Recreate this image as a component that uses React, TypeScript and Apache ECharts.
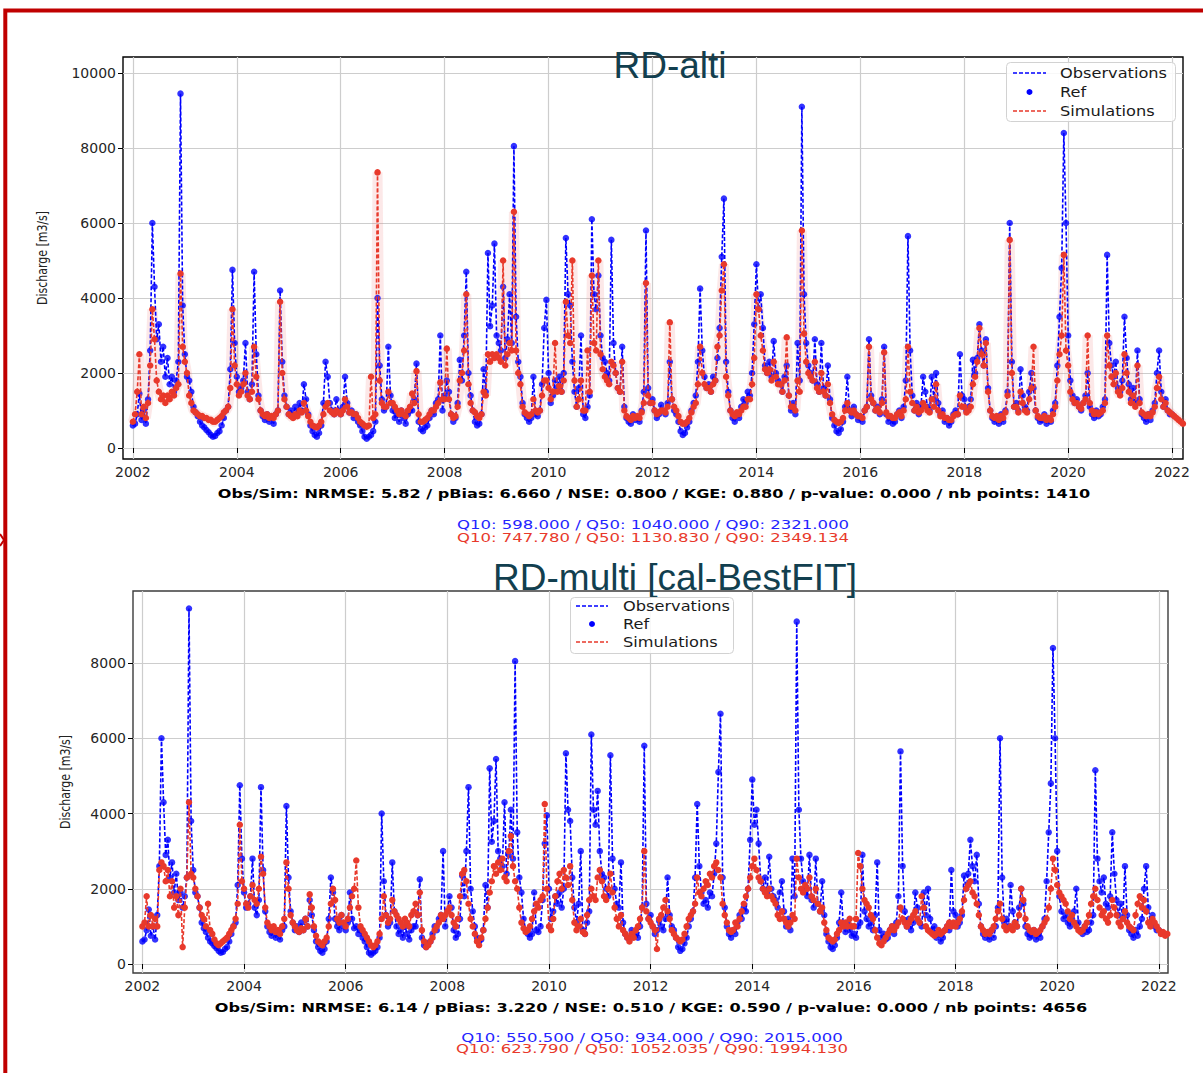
import React, { useEffect, useRef } from "react";
import * as echarts from "echarts";

// Half-monthly discharge samples (m3/s): one row per year, 24 values starting 1 Jan.
const firstYear = 2002;
const stepsPerYear = 24;

const observedRows: number[][] = [
  [600, 650, 900, 1450, 750, 1000, 650, 1300, 2600, 6000, 4300, 2900, 3300, 2300, 2700, 1900, 2400, 1700, 1900, 1500, 1800, 2300, 9450, 3800],
  [2500, 1900, 1800, 1500, 1100, 950, 850, 700, 600, 550, 480, 420, 350, 300, 320, 400, 450, 600, 800, 1000, 1100, 2100, 4750, 2800],
  [1900, 1500, 1600, 1800, 2800, 1500, 1300, 1700, 4700, 2500, 1400, 1000, 850, 750, 900, 700, 800, 650, 900, 1000, 4200, 2300, 1400, 1100],
  [900, 1000, 850, 1100, 900, 1200, 1000, 1700, 1300, 900, 600, 450, 350, 300, 400, 600, 1200, 2300, 1900, 1200, 1000, 900, 1300, 1000],
  [900, 1100, 1900, 1200, 950, 1000, 800, 900, 700, 600, 450, 300, 250, 300, 350, 450, 700, 4000, 2200, 1300, 1000, 1100, 2700, 1400],
  [1000, 800, 900, 700, 1000, 800, 650, 900, 1000, 1000, 1300, 2250, 700, 500, 450, 550, 600, 800, 1000, 900, 1200, 1300, 3000, 1000],
  [1400, 1800, 1500, 900, 700, 800, 1200, 2350, 1800, 3000, 4700, 2000, 1400, 1000, 700, 600, 650, 900, 2100, 1500, 5200, 3250, 3800, 5450],
  [3000, 2800, 2600, 4300, 2400, 2900, 4100, 2800, 8050, 3500, 2300, 1900, 1200, 900, 800, 700, 800, 1900, 900, 850, 1000, 1700, 3200, 3950],
  [2000, 1200, 1400, 1800, 1600, 1900, 1500, 2000, 5600, 4100, 3800, 2300, 1500, 1100, 1600, 3000, 900, 800, 1100, 1400, 6100, 4100, 3700, 4600],
  [3000, 2400, 2300, 2000, 1800, 5550, 2800, 2000, 1600, 1500, 2700, 1100, 800, 700, 650, 900, 750, 800, 700, 1000, 1500, 5800, 1600, 1200],
  [1300, 1000, 800, 900, 1150, 1000, 900, 1200, 2300, 1300, 1000, 900, 700, 450, 350, 400, 550, 700, 1000, 1200, 1400, 2300, 4250, 2600],
  [1900, 1600, 1700, 1500, 1900, 1800, 2400, 3200, 5100, 6650, 2300, 1500, 1000, 800, 700, 900, 800, 1100, 1300, 1200, 1500, 1400, 2000, 3300],
  [4900, 3700, 4100, 3200, 2200, 2000, 2300, 1900, 2850, 2000, 1800, 1700, 1500, 1900, 2200, 1400, 1000, 1200, 900, 2800, 1800, 9100, 4100, 2800],
  [2200, 2000, 1800, 2900, 1700, 1500, 2800, 1600, 1400, 2200, 1300, 800, 600, 450, 400, 500, 700, 1100, 1900, 1000, 850, 1100, 900, 750],
  [800, 700, 1000, 1100, 2900, 1400, 1200, 1000, 1100, 900, 1300, 2700, 900, 700, 800, 650, 700, 900, 1000, 800, 1100, 1800, 5650, 2600],
  [1400, 1000, 1200, 900, 1100, 1900, 1500, 1100, 1000, 1900, 1300, 2000, 1200, 900, 1000, 700, 800, 600, 700, 900, 1000, 900, 2500, 1400],
  [1300, 1000, 1100, 1300, 2350, 2000, 2400, 3300, 2600, 2200, 2900, 1600, 1000, 800, 700, 800, 650, 900, 700, 1000, 1500, 6000, 2300, 1100],
  [1200, 1000, 2100, 1400, 1100, 1000, 1500, 2000, 1600, 1000, 800, 700, 750, 900, 650, 800, 700, 1000, 1200, 2200, 3500, 4800, 8400, 6000],
  [3000, 1800, 1400, 1200, 1300, 1100, 1000, 1200, 1400, 2000, 1100, 900, 800, 1000, 850, 900, 1100, 1300, 5150, 2800, 2200, 1900, 2300, 1600],
  [1500, 1800, 3500, 2400, 1700, 1300, 1600, 1200, 2600, 1300, 900, 800, 700, 900, 750, 1000, 1200, 2000, 2600, 1500, 1100, 1300, 1000, 900],
];
const observedTail: number[] = [900];

// Simulated discharge, altimetry run
const simAltiRows: number[][] = [
  [700, 900, 1500, 2500, 900, 1100, 800, 1200, 2200, 3700, 2900, 1800, 1500, 1300, 1400, 1200, 1400, 1300, 1500, 1400, 1600, 1700, 4650, 2700],
  [2300, 2000, 1400, 1200, 1000, 950, 900, 850, 850, 800, 800, 750, 750, 700, 700, 750, 800, 850, 950, 1000, 1100, 1600, 3700, 2200],
  [1700, 1400, 1500, 1700, 2000, 1400, 1300, 1500, 2700, 1900, 1300, 1000, 900, 850, 900, 800, 850, 800, 900, 1000, 3900, 2000, 1300, 1100],
  [900, 850, 800, 900, 850, 1000, 950, 1200, 1000, 850, 700, 600, 570, 550, 600, 700, 900, 1100, 1200, 1000, 950, 900, 1000, 950],
  [900, 1000, 1300, 1100, 950, 950, 900, 900, 800, 700, 650, 600, 570, 600, 1900, 800, 900, 7350, 1800, 1200, 1100, 1100, 1500, 1200],
  [1200, 1100, 1000, 900, 1000, 900, 850, 1000, 1100, 1450, 1200, 2050, 900, 700, 700, 750, 800, 900, 1000, 1000, 1100, 1200, 1750, 1300],
  [1300, 2650, 1300, 900, 800, 850, 1100, 1800, 2000, 2600, 4100, 1700, 1200, 1000, 950, 850, 800, 900, 1500, 1400, 2500, 2300, 2500, 2400],
  [2500, 2400, 2300, 5000, 2200, 2500, 2800, 2600, 6300, 2600, 2000, 1700, 1100, 950, 900, 850, 900, 1300, 1000, 950, 1000, 1400, 1800, 1800],
  [1600, 1300, 1500, 2800, 1500, 1650, 1500, 1800, 3900, 3000, 2800, 5000, 1800, 1100, 1300, 1800, 1000, 1000, 2600, 1500, 4600, 2800, 2600, 5000],
  [2500, 2100, 1900, 1800, 1700, 2300, 2200, 2000, 1600, 1500, 2300, 1000, 850, 800, 750, 850, 800, 850, 800, 950, 1200, 4400, 1400, 1200],
  [1200, 1000, 900, 950, 1000, 1000, 950, 1100, 3350, 1300, 1100, 1000, 850, 700, 650, 650, 700, 800, 950, 1100, 1200, 1700, 2700, 2000],
  [1700, 1600, 1600, 1500, 1700, 1800, 2700, 3000, 4200, 4900, 1900, 1400, 1000, 900, 850, 950, 900, 1000, 1100, 1100, 1300, 1300, 1700, 2400],
  [4100, 3700, 3000, 2600, 2100, 2000, 2100, 1800, 2300, 1900, 1700, 1700, 1500, 1800, 2950, 1400, 1100, 1100, 1000, 1800, 1500, 5800, 3050, 2300],
  [2000, 1900, 1800, 2300, 1600, 1500, 2000, 1500, 1400, 1700, 1200, 900, 750, 700, 670, 700, 800, 1000, 1200, 1000, 950, 1000, 900, 850],
  [850, 800, 1000, 1100, 2700, 1300, 1200, 1000, 1050, 950, 1200, 2550, 950, 850, 850, 800, 800, 900, 950, 850, 1000, 1300, 2700, 1500],
  [1200, 1000, 1100, 950, 1000, 1200, 1100, 1000, 950, 1300, 1100, 1700, 1000, 850, 900, 800, 800, 750, 750, 850, 900, 900, 1400, 1100],
  [1100, 950, 1000, 1100, 1700, 1900, 2300, 3200, 2500, 2200, 2800, 1500, 1000, 850, 800, 850, 750, 850, 800, 950, 1400, 5550, 2000, 1100],
  [1100, 950, 1500, 1200, 1000, 950, 1300, 1600, 2700, 1000, 850, 800, 800, 850, 750, 800, 750, 900, 1100, 1800, 2500, 3000, 5150, 2600],
  [2200, 1500, 1300, 1200, 1200, 1100, 1050, 1200, 1300, 3000, 1200, 1000, 900, 950, 900, 950, 1000, 1200, 3000, 2200, 1900, 1700, 2000, 1500],
  [1400, 1600, 2500, 2000, 1500, 1200, 1400, 1100, 2200, 1200, 950, 900, 850, 900, 850, 950, 1100, 1600, 1900, 1300, 1100, 1200, 1000, 950],
];
const simAltiTail: number[] = [900, 850, 800, 750, 700, 650];

// Simulated discharge, multi-mission run calibrated on best fit
const simMultiRows: number[][] = [
  [1000, 1100, 1800, 1000, 1300, 1000, 1200, 1000, 2500, 2700, 2600, 2200, 2500, 1800, 2200, 1500, 1800, 1300, 2000, 450, 1500, 2300, 4300, 2400],
  [2300, 2000, 1800, 1500, 1300, 1200, 1000, 1600, 900, 800, 650, 550, 500, 550, 600, 650, 700, 800, 900, 1000, 1200, 1600, 3700, 2200],
  [2000, 1600, 1500, 1800, 2100, 1700, 1600, 2000, 2850, 2400, 1500, 1100, 1000, 900, 1000, 850, 900, 800, 1000, 1200, 2700, 2000, 1300, 1100],
  [1000, 900, 850, 950, 900, 1200, 1000, 1850, 1500, 1000, 750, 600, 550, 500, 600, 700, 1000, 1600, 2000, 1700, 1200, 1100, 1300, 1100],
  [1000, 1200, 1500, 1800, 2000, 2750, 1500, 1000, 900, 800, 700, 600, 500, 450, 500, 600, 800, 1200, 1800, 1300, 1100, 1200, 1700, 1400],
  [1300, 1200, 1100, 1000, 1200, 1100, 1000, 1300, 1400, 1600, 1300, 1900, 900, 600, 450, 500, 600, 700, 900, 1000, 1100, 1300, 1200, 1300],
  [1400, 1500, 1300, 1100, 1000, 1200, 1800, 2400, 2500, 2200, 1600, 1200, 1000, 800, 600, 500, 700, 900, 1200, 1500, 1900, 2200, 2600, 2400],
  [2700, 2500, 2800, 2300, 2200, 3000, 3400, 2600, 2200, 2000, 1500, 1100, 950, 850, 900, 1000, 1200, 1400, 1600, 1500, 1700, 1800, 4250, 2000],
  [1000, 900, 1200, 1800, 2200, 2400, 2000, 2500, 2300, 2100, 2600, 1700, 1100, 900, 1000, 1200, 850, 800, 1300, 1700, 2000, 1800, 1700, 2300],
  [2500, 2200, 1800, 1700, 2000, 2400, 1900, 1500, 1200, 1000, 1300, 900, 800, 700, 600, 800, 700, 900, 1000, 1200, 1500, 3000, 1400, 1200],
  [1100, 1000, 900, 400, 1200, 1300, 1500, 1700, 1400, 1200, 900, 800, 700, 650, 600, 650, 800, 1000, 1200, 1300, 1400, 1600, 2300, 1900],
  [1800, 2000, 2200, 2100, 2400, 2300, 2600, 2700, 2500, 2300, 1600, 1300, 1100, 900, 850, 900, 1100, 1000, 1200, 1400, 1600, 1800, 2000, 2300],
  [2600, 2800, 2500, 2300, 2200, 2000, 1900, 1800, 2000, 1800, 1700, 1600, 1300, 1200, 1400, 1200, 1100, 1000, 1100, 1300, 1200, 2800, 2300, 2000],
  [1900, 2100, 2000, 2300, 1800, 1700, 2000, 1600, 1400, 1500, 1100, 900, 700, 650, 600, 650, 800, 900, 1100, 1000, 1100, 1000, 1200, 1000],
  [1000, 1200, 2950, 2600, 2000, 1700, 1600, 1500, 1300, 1200, 900, 700, 550, 500, 600, 700, 800, 900, 1000, 900, 1000, 1100, 1500, 1200],
  [1100, 1000, 1100, 1200, 1300, 1400, 1200, 1100, 1800, 1500, 1000, 900, 850, 800, 750, 800, 900, 800, 850, 900, 1000, 1100, 1000, 1100],
  [1000, 1100, 1200, 1400, 1700, 2000, 2100, 2200, 1900, 1800, 1600, 1300, 1000, 900, 800, 850, 800, 900, 1000, 1200, 1400, 1600, 1200, 1000],
  [900, 950, 1000, 900, 1100, 1000, 1300, 2000, 1700, 1200, 1000, 900, 850, 900, 800, 850, 900, 1000, 1100, 1200, 1500, 2000, 2800, 2500],
  [2100, 1900, 1800, 1700, 1600, 1400, 1200, 1300, 1100, 1000, 900, 850, 900, 1000, 1100, 1300, 1600, 1800, 2000, 1700, 1500, 1300, 1400, 1200],
  [1100, 1300, 1700, 1500, 1300, 1100, 1000, 1200, 1400, 1100, 1000, 950, 900, 1300, 1600, 1800, 1500, 1700, 1400, 1100, 1000, 1200, 1100, 1000],
];
const simMultiTail: number[] = [900, 800, 850, 750, 800];

// Axis ticks
const yearTicks: number[] = [2002, 2004, 2006, 2008, 2010, 2012, 2014, 2016, 2018, 2020, 2022];
const altiTicks: number[] = [0, 2000, 4000, 6000, 8000, 10000];
const multiTicks: number[] = [0, 2000, 4000, 6000, 8000];

// Panel texts
const altiTitle = "RD-alti";
const multiTitle = "RD-multi [cal-BestFIT]";
const yName = "Discharge [m3/s]";
const altiScores = "Obs/Sim: NRMSE: 5.82 / pBias: 6.660 / NSE: 0.800 / KGE: 0.880 / p-value: 0.000 / nb points: 1410";
const altiObsQ = "Q10: 598.000 / Q50: 1040.000 / Q90: 2321.000";
const altiSimQ = "Q10: 747.780 / Q50: 1130.830 / Q90: 2349.134";
const multiScores = "Obs/Sim: NRMSE: 6.14 / pBias: 3.220 / NSE: 0.510 / KGE: 0.590 / p-value: 0.000 / nb points: 4656";
const multiObsQ = "Q10: 550.500 / Q50: 934.000 / Q90: 2015.000";
const multiSimQ = "Q10: 623.790 / Q50: 1052.035 / Q90: 1994.130";
const legendNames = ["Observations", "Ref", "Simulations"];

const BLUE = "#0000ff";
const RED = "#e8392b";

function toPairs(rows: number[][], tail: number[]): [number, number][] {
  const out: [number, number][] = [];
  rows.forEach((row, yi) => {
    row.forEach((v, k) => out.push([firstYear + yi + k / stepsPerYear, v]));
  });
  const lastYear = firstYear + rows.length;
  tail.forEach((v, k) => out.push([lastYear + k / stepsPerYear, v]));
  return out;
}

const observed = toPairs(observedRows, observedTail);
const simAlti = toPairs(simAltiRows, simAltiTail);
const simMulti = toPairs(simMultiRows, simMultiTail);

const tickFont = { fontFamily: "DejaVu Sans", fontSize: 14, color: "#262626" };

function xAxisFor(gridIndex: number, min: number, max: number) {
  return {
    type: "value" as const,
    gridIndex,
    min,
    max,
    axisLine: { show: false },
    axisTick: { show: true, length: 5, customValues: yearTicks, lineStyle: { color: "#000", width: 1 } },
    axisLabel: { ...tickFont, margin: 6, customValues: yearTicks, formatter: (v: number) => String(Math.round(v)) },
    splitLine: { show: true, lineStyle: { color: "#cdcdcd", width: 1.2 } },
  };
}

function yAxisFor(gridIndex: number, min: number, max: number, ticks: number[]) {
  return {
    type: "value" as const,
    gridIndex,
    min,
    max,
    axisLine: { show: false },
    axisTick: { show: true, length: 5, customValues: ticks, lineStyle: { color: "#000", width: 1 } },
    axisLabel: { ...tickFont, margin: 7, customValues: ticks, formatter: (v: number) => String(Math.round(v)) },
    splitLine: { show: true, lineStyle: { color: "#cdcdcd", width: 1.2 } },
  };
}

function panelSeries(axis: number, sim: [number, number][], withBand: boolean) {
  const list: any[] = [];
  if (withBand) {
    list.push({
      type: "line",
      xAxisIndex: axis,
      yAxisIndex: axis,
      data: sim,
      symbol: "none",
      silent: true,
      lineStyle: { color: "rgba(238,120,120,0.17)", width: 10 },
      z: 1,
    });
  }
  list.push(
    {
      name: legendNames[0],
      type: "line",
      xAxisIndex: axis,
      yAxisIndex: axis,
      data: observed,
      symbol: "none",
      lineStyle: { color: BLUE, width: 1.6, type: [4, 2] },
      z: 2,
    },
    {
      name: legendNames[1],
      type: "scatter",
      xAxisIndex: axis,
      yAxisIndex: axis,
      data: observed,
      symbolSize: 6.5,
      itemStyle: { color: BLUE },
      z: 3,
    },
    {
      name: legendNames[2],
      type: "line",
      xAxisIndex: axis,
      yAxisIndex: axis,
      data: sim,
      symbol: "circle",
      symbolSize: 6.5,
      showSymbol: true,
      showAllSymbol: true,
      lineStyle: { color: RED, width: 1.6, type: [4, 2] },
      itemStyle: { color: RED, borderWidth: 0 },
      z: 4,
    }
  );
  return list;
}

function legendBox(x: number, y: number, w: number, h: number, textX: number, rows: number[], lineX: [number, number]) {
  const textStyle = { fontFamily: "DejaVu Sans", fontSize: 13.5, fill: "#1a1a1a", verticalAlign: "middle" as const, align: "left" as const };
  return [
    {
      type: "rect",
      z: 100,
      shape: { x, y, width: w, height: h, r: 4 },
      style: { fill: "rgba(255,255,255,0.85)", stroke: "#d2d2d2", lineWidth: 1 },
    },
    {
      type: "line",
      z: 101,
      shape: { x1: lineX[0], y1: rows[0], x2: lineX[1], y2: rows[0] },
      style: { stroke: BLUE, lineWidth: 1.4, lineDash: [4, 2] },
    },
    {
      type: "circle",
      z: 101,
      shape: { cx: (lineX[0] + lineX[1]) / 2, cy: rows[1], r: 3 },
      style: { fill: BLUE },
    },
    {
      type: "line",
      z: 101,
      shape: { x1: lineX[0], y1: rows[2], x2: lineX[1], y2: rows[2] },
      style: { stroke: RED, lineWidth: 1.4, lineDash: [4, 2] },
    },
    ...legendNames.map((name, i) => ({
      type: "text",
      z: 101,
      x: textX,
      y: rows[i],
      scaleX: 1.2,
      style: { ...textStyle, text: name },
    })),
  ];
}

function centered(text: string, x: number, y: number, size: number, fill: string, bold: boolean, sx: number) {
  return {
    type: "text",
    z: 90,
    x,
    y,
    scaleX: sx,
    style: {
      text,
      fontFamily: "DejaVu Sans",
      fontSize: size,
      fontWeight: bold ? "bold" : "normal",
      fill,
      align: "center",
      verticalAlign: "middle",
    },
  };
}

function title(text: string, x: number, y: number) {
  return {
    type: "text",
    z: 95,
    x,
    y,
    style: {
      text,
      fontFamily: "Liberation Sans",
      fontSize: 37,
      fill: "#123f4f",
      align: "center",
      verticalAlign: "middle",
    },
  };
}

function yLabel(x: number, y: number) {
  return {
    type: "text",
    z: 90,
    x,
    y,
    rotation: Math.PI / 2,
    scaleY: 1.2,
    style: {
      text: yName,
      fontFamily: "DejaVu Sans",
      fontSize: 11,
      fill: "#222",
      align: "center",
      verticalAlign: "middle",
    },
  };
}

export default function App() {
  const ref = useRef<HTMLDivElement>(null);

  useEffect(() => {
    document.body.style.margin = "0";
    if (!ref.current) return;
    const chart = echarts.init(ref.current, null, { renderer: "svg", width: 1203, height: 1073 });
    chart.setOption({
      animation: false,
      backgroundColor: "#ffffff",
      grid: [
        { left: 123, top: 57, width: 1060, height: 402, show: true, borderColor: "#000", borderWidth: 1.4, backgroundColor: "transparent" },
        { left: 133, top: 591, width: 1035, height: 382, show: true, borderColor: "#3c3c3c", borderWidth: 1.4, backgroundColor: "transparent" },
      ],
      xAxis: [xAxisFor(0, 2001.81, 2022.21), xAxisFor(1, 2001.815, 2022.18)],
      yAxis: [yAxisFor(0, -293, 10427, altiTicks), yAxisFor(1, -239, 9914, multiTicks)],
      series: [...panelSeries(0, simAlti, true), ...panelSeries(1, simMulti, false)],
      graphic: [
        {
          type: "rect",
          z: 120,
          shape: { x: 5.3, y: 10.5, width: 1300, height: 1200 },
          style: { fill: "none", stroke: "#c00000", lineWidth: 4 },
        },
        {
          type: "polyline",
          z: 120,
          shape: { points: [[0, 534], [4, 540], [0, 546]] },
          style: { fill: "none", stroke: "#c00000", lineWidth: 2 },
        },
        title(altiTitle, 670, 65),
        title(multiTitle, 675, 577),
        yLabel(43, 258),
        yLabel(66, 782),
        centered(altiScores, 654, 493, 13, "#000", true, 1.24),
        centered(altiObsQ, 653, 525, 13, "#2424ff", false, 1.27),
        centered(altiSimQ, 653, 538, 13, "#e8392b", false, 1.27),
        centered(multiScores, 651, 1007, 13, "#000", true, 1.24),
        centered(multiObsQ, 652, 1038, 13, "#2424ff", false, 1.27),
        centered(multiSimQ, 652, 1049, 13, "#e8392b", false, 1.27),
        ...legendBox(1006.5, 62.5, 169, 59, 1060, [73, 92, 111], [1013, 1046]),
        ...legendBox(570.5, 597.5, 163, 56, 623, [606, 624, 642], [576, 608]),
      ],
    });
    return () => chart.dispose();
  }, []);

  return (
    <div
      ref={ref}
      style={{ position: "absolute", left: 0, top: 0, width: 1203, height: 1073, background: "#fff" }}
    />
  );
}
